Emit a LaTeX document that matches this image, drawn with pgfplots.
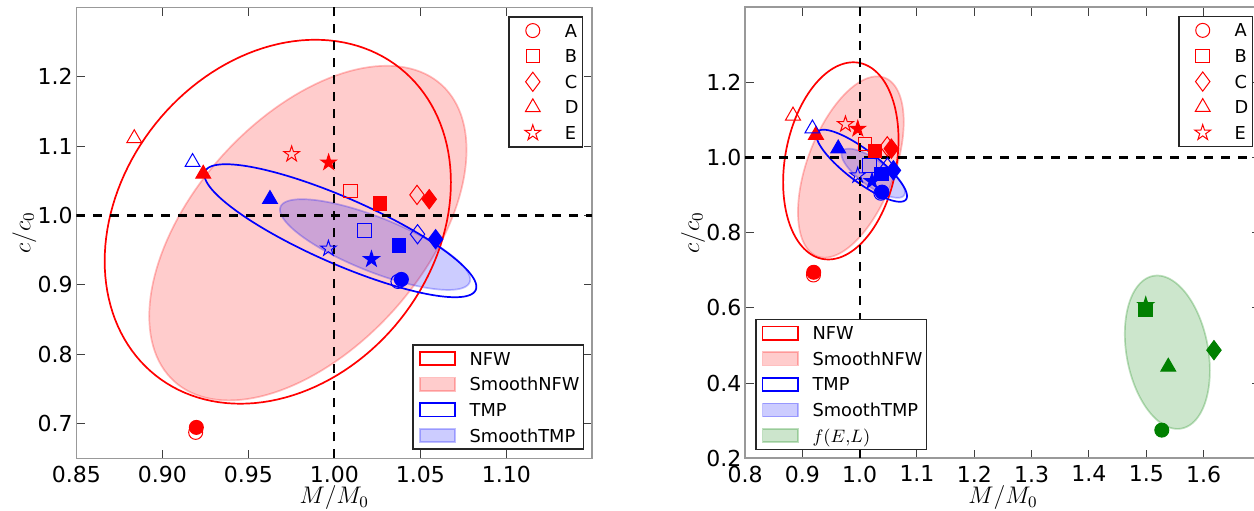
\documentclass[border=0pt]{standalone}
\usepackage{pgfplots}
\usepackage{pgfplotstable}
\pgfplotsset{compat=1.18}
\usepackage{fontspec}
\setmainfont{DejaVu Sans}
\definecolor{mplgreen}{rgb}{0,0.5,0}

\pgfdeclareplotmark{fstar}{%
 \pgfpathmoveto{\pgfqpointpolar{90}{\pgfplotmarksize}}%
 \pgfpathlineto{\pgfqpointpolar{126}{0.382\pgfplotmarksize}}%
 \pgfpathlineto{\pgfqpointpolar{162}{\pgfplotmarksize}}%
 \pgfpathlineto{\pgfqpointpolar{198}{0.382\pgfplotmarksize}}%
 \pgfpathlineto{\pgfqpointpolar{234}{\pgfplotmarksize}}%
 \pgfpathlineto{\pgfqpointpolar{270}{0.382\pgfplotmarksize}}%
 \pgfpathlineto{\pgfqpointpolar{306}{\pgfplotmarksize}}%
 \pgfpathlineto{\pgfqpointpolar{342}{0.382\pgfplotmarksize}}%
 \pgfpathlineto{\pgfqpointpolar{18}{\pgfplotmarksize}}%
 \pgfpathlineto{\pgfqpointpolar{54}{0.382\pgfplotmarksize}}%
 \pgfpathclose\pgfusepathqfillstroke}
\pgfdeclareplotmark{ostar}{%
 \pgfpathmoveto{\pgfqpointpolar{90}{\pgfplotmarksize}}%
 \pgfpathlineto{\pgfqpointpolar{126}{0.382\pgfplotmarksize}}%
 \pgfpathlineto{\pgfqpointpolar{162}{\pgfplotmarksize}}%
 \pgfpathlineto{\pgfqpointpolar{198}{0.382\pgfplotmarksize}}%
 \pgfpathlineto{\pgfqpointpolar{234}{\pgfplotmarksize}}%
 \pgfpathlineto{\pgfqpointpolar{270}{0.382\pgfplotmarksize}}%
 \pgfpathlineto{\pgfqpointpolar{306}{\pgfplotmarksize}}%
 \pgfpathlineto{\pgfqpointpolar{342}{0.382\pgfplotmarksize}}%
 \pgfpathlineto{\pgfqpointpolar{18}{\pgfplotmarksize}}%
 \pgfpathlineto{\pgfqpointpolar{54}{0.382\pgfplotmarksize}}%
 \pgfpathclose\pgfusepathqstroke}

% data: M/M0, c/c0, halo
\pgfplotstableread{
x y label
0.9194 0.6875 A
1.0093 1.0356 B
1.0481 1.0298 C
0.8837 1.1113 D
0.9752 1.0885 E
}\redopen
\pgfplotstableread{
x y label
0.9198 0.6947 A
1.0266 1.0178 B
1.0552 1.0236 C
0.9238 1.0600 D
0.9967 1.0764 E
}\redfull
\pgfplotstableread{
x y label
1.0370 0.9050 A
1.0174 0.9784 B
1.0484 0.9731 C
0.9176 1.0770 D
0.9966 0.9524 E
}\blueopen
\pgfplotstableread{
x y label
1.0390 0.9080 A
1.0376 0.9567 B
1.0589 0.9659 C
0.9626 1.0236 D
1.0216 0.9370 E
}\bluefull
\pgfplotstableread{
x y label
1.4990 0.6070 E
1.5270 0.2747 A
1.4990 0.5960 B
1.6180 0.4875 C
1.5383 0.4430 D
}\greenfull

\newcommand\tickfont{\fontsize{11}{13}\selectfont}
\newcommand\labfont{\fontsize{11.5}{14}\selectfont}
\newcommand\legfont{\fontsize{8.9}{10}\selectfont}

\pgfplotsset{
 panel/.style={
   scale only axis, width=258pt, height=225.5pt, anchor=south west,
   axis line style={black!40, line width=0.8pt},
   tick align=inside, major tick length=4.3pt,
   tick style={black!75, line width=0.5pt},
   /pgf/number format/assume math mode=true,
   xticklabel style={font=\tickfont, inner ysep=3.6pt},
   yticklabel style={font=\tickfont, inner xsep=1.6pt},
   xlabel={$M/M_0$}, ylabel={$c/c_0$},
   every axis x label/.style={at={(axis description cs:0.5,-0.101)}, anchor=base, font=\labfont},
   every axis y label/.style={at={(axis description cs:-0.089,0.5)}, anchor=base, rotate=90, font=\labfont},
   legend cell align=left,
   legend style={draw=black!85, line width=0.8pt, inner xsep=2pt, inner ysep=0.5pt,
     row sep=0pt, column sep=0pt, nodes={inner sep=0pt, text depth=0pt, draw=none},
     font=\legfont},
   legend image code/.code={\path[draw=none, fill=none] (0pt,-6.4pt) rectangle (26pt,6.4pt);
     \draw[##1] plot coordinates {(10pt,0pt)};},
 },
 overlay/.style={
   scale only axis, width=258pt, height=225.5pt, anchor=south west, hide axis,
   xmin=0, xmax=1, ymin=0, ymax=1,
   legend cell align=left,
   legend style={draw=black!85, line width=0.8pt, inner xsep=2pt, inner ysep=0.5pt,
     row sep=0pt, column sep=0pt, nodes={inner sep=0pt, text depth=0pt, draw=none},
     font=\legfont},
   legend image code/.code={\path[draw=none, fill=none] (0pt,-6.4pt) rectangle (26.35pt,6.4pt);
     \draw[##1] (1.35pt,-3.3pt) rectangle (19.1pt,3.3pt);},
 },
 openpts/.style={scatter, only marks, forget plot, scatter src=explicit symbolic,
   scatter/classes={
     A={mark=o, mark size=3.5pt, draw=#1},
     B={mark=square, mark size=3.4pt, draw=#1},
     C={mark=diamond, mark size=4.8pt, draw=#1},
     D={mark=triangle, mark size=4.3pt, draw=#1},
     E={mark=ostar, mark size=4.1pt, draw=#1}},
   mark options={line width=0.5pt}},
 fullpts/.style={scatter, only marks, forget plot, scatter src=explicit symbolic,
   scatter/classes={
     A={mark=*, mark size=3.5pt, draw=#1, fill=#1},
     B={mark=square*, mark size=3.4pt, draw=#1, fill=#1},
     C={mark=diamond*, mark size=4.8pt, draw=#1, fill=#1},
     D={mark=triangle*, mark size=4.3pt, draw=#1, fill=#1},
     E={mark=fstar, mark size=4.1pt, draw=#1, fill=#1}},
   mark options={line width=0.5pt}},
 ell/.style={domain=0:360, samples=145, forget plot, line width=0.85pt},
}

\newcommand\markerlegend{%
 \addlegendimage{only marks, mark=o, mark size=3.5pt, red, line width=0.5pt}
 \addlegendentry{A}
 \addlegendimage{only marks, mark=square, mark size=3.4pt, red, line width=0.5pt}
 \addlegendentry{B}
 \addlegendimage{only marks, mark=diamond, mark size=4.8pt, red, line width=0.5pt}
 \addlegendentry{C}
 \addlegendimage{only marks, mark=triangle, mark size=4.3pt, red, line width=0.5pt}
 \addlegendentry{D}
 \addlegendimage{only marks, mark=ostar, mark size=4.1pt, red, line width=0.5pt}
 \addlegendentry{E}}

\newcommand\ellipses{%
 % SmoothNFW
 \addplot[ell, draw=red, draw opacity=0.25, fill=red, fill opacity=0.2]
   ({0.98465+0.09225*cos(x)}, {0.97475+0.24115*cos(x-60.2)});
 % SmoothTMP
 \addplot[ell, draw=blue, draw opacity=0.25, fill=blue, fill opacity=0.2]
   ({1.0237+0.0553*cos(x)}, {0.9582+0.0654*cos(x-140.2)});
 % NFW
 \addplot[ell, draw=red]
   ({0.96715+0.10065*cos(x)}, {0.9911+0.2623*cos(x-77.5)});
 % TMP
 \addplot[ell, draw=blue]
   ({1.00355+0.07905*cos(x)}, {0.97815+0.09585*cos(x-147.4)});
}

\begin{document}
\begin{tikzpicture}
%================ LEFT PANEL =================
\begin{axis}[panel, at={(38.15pt,25.8pt)},
  xmin=0.85, xmax=1.15, ymin=0.65, ymax=1.3,
  xtick={0.85,0.90,0.95,1.00,1.05,1.10},
  ytick={0.7,0.8,0.9,1.0,1.1,1.2},
  xticklabel style={/pgf/number format/.cd, fixed, fixed zerofill, precision=2},
  yticklabel style={/pgf/number format/.cd, fixed, fixed zerofill, precision=1},
  legend style={at={(0.9826,0.981)}, anchor=north east}]
 \ellipses
 \addplot[black, line width=1.1pt, dash pattern=on 4.5pt off 4pt, forget plot]
   coordinates {(1,0.65) (1,1.3)};
 \addplot[black, line width=1.1pt, dash pattern=on 4.5pt off 4pt, forget plot]
   coordinates {(0.85,1) (1.15,1)};
 \addplot[openpts=red] table[x=x, y=y, meta=label] {\redopen};
 \addplot[fullpts=red] table[x=x, y=y, meta=label] {\redfull};
 \addplot[openpts=blue] table[x=x, y=y, meta=label] {\blueopen};
 \addplot[fullpts=blue] table[x=x, y=y, meta=label] {\bluefull};
 \markerlegend
\end{axis}
\begin{axis}[overlay, at={(38.15pt,25.8pt)},
  legend style={at={(0.9845,0.0186)}, anchor=south east}]
 \addlegendimage{draw=red, fill=white, line width=0.85pt}
 \addlegendentry{NFW}
 \addlegendimage{draw=red, draw opacity=0.25, fill=red, fill opacity=0.2, line width=0.85pt}
 \addlegendentry{SmoothNFW}
 \addlegendimage{draw=blue, fill=white, line width=0.85pt}
 \addlegendentry{TMP}
 \addlegendimage{draw=blue, draw opacity=0.25, fill=blue, fill opacity=0.2, line width=0.85pt}
 \addlegendentry{SmoothTMP}
\end{axis}

%================ RIGHT PANEL =================
\begin{axis}[panel, at={(372.5pt,25.9pt)},
  xmin=0.8, xmax=1.7, ymin=0.2, ymax=1.4,
  xtick={0.8,0.9,1.0,1.1,1.2,1.3,1.4,1.5,1.6},
  ytick={0.2,0.4,0.6,0.8,1.0,1.2},
  xticklabel style={/pgf/number format/.cd, fixed, fixed zerofill, precision=1},
  yticklabel style={/pgf/number format/.cd, fixed, fixed zerofill, precision=1},
  legend style={at={(0.985,0.981)}, anchor=north east}]
 \ellipses
 % f(E,L)
 \addplot[ell, draw=mplgreen, draw opacity=0.25, fill=mplgreen, fill opacity=0.2]
   ({1.5367+0.0742*cos(x)}, {0.482+0.204*cos(x-103.8)});
 \addplot[black, line width=1.1pt, dash pattern=on 4.5pt off 4pt, forget plot]
   coordinates {(1,0.2) (1,1.4)};
 \addplot[black, line width=1.1pt, dash pattern=on 4.5pt off 4pt, forget plot]
   coordinates {(0.8,1) (1.7,1)};
 \addplot[openpts=red] table[x=x, y=y, meta=label] {\redopen};
 \addplot[fullpts=red] table[x=x, y=y, meta=label] {\redfull};
 \addplot[openpts=blue] table[x=x, y=y, meta=label] {\blueopen};
 \addplot[fullpts=blue] table[x=x, y=y, meta=label] {\bluefull};
 \addplot[fullpts=mplgreen] table[x=x, y=y, meta=label] {\greenfull};
 \markerlegend
\end{axis}
\begin{axis}[overlay, at={(372.5pt,25.9pt)},
  legend style={at={(0.0194,0.0177)}, anchor=south west}]
 \addlegendimage{draw=red, fill=white, line width=0.85pt}
 \addlegendentry{NFW}
 \addlegendimage{draw=red, draw opacity=0.25, fill=red, fill opacity=0.2, line width=0.85pt}
 \addlegendentry{SmoothNFW}
 \addlegendimage{draw=blue, fill=white, line width=0.85pt}
 \addlegendentry{TMP}
 \addlegendimage{draw=blue, draw opacity=0.25, fill=blue, fill opacity=0.2, line width=0.85pt}
 \addlegendentry{SmoothTMP}
 \addlegendimage{draw=mplgreen, draw opacity=0.25, fill=mplgreen, fill opacity=0.2, line width=0.85pt}
 \addlegendentry{$f(E{,}L)$}
\end{axis}
\pgfresetboundingbox
\path (0pt,0pt) rectangle (627pt,255pt);
\end{tikzpicture}
\end{document}
